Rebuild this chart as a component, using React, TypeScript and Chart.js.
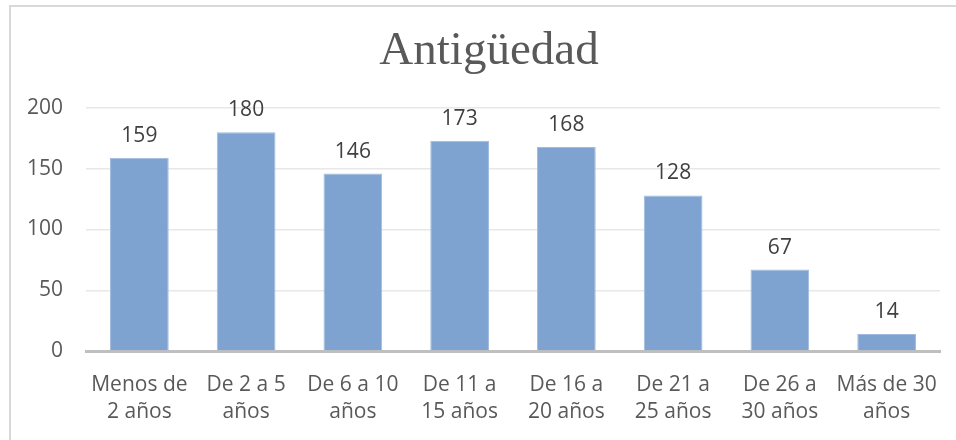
import React, { useEffect, useRef } from "react";
import { Chart, registerables } from "chart.js";

Chart.register(...registerables);

const titleText = "Antigüedad";
const categories: string[][] = [
  ["Menos de", "2 años"],
  ["De 2 a 5", "años"],
  ["De 6 a 10", "años"],
  ["De 11 a", "15 años"],
  ["De 16 a", "20 años"],
  ["De 21 a", "25 años"],
  ["De 26 a", "30 años"],
  ["Más de 30", "años"],
];
const values: number[] = [159, 180, 146, 173, 168, 128, 67, 14];
const yMin = 0;
const yMax = 200;
const yStep = 50;

const W = 960;
const H = 450;
const FONT = "'Open Sans', 'Noto Sans', sans-serif";

const framePlugin = {
  id: "frame",
  beforeDraw(chart: any) {
    const ctx = chart.ctx;
    ctx.save();
    ctx.fillStyle = "#ffffff";
    ctx.fillRect(0, 0, chart.width, chart.height);
    ctx.strokeStyle = "#d9d9d9";
    ctx.lineWidth = 2;
    ctx.strokeRect(1, 1, chart.width - 2, chart.height - 2);
    ctx.font = "47px 'Liberation Serif', serif";
    ctx.fillStyle = "#595959";
    ctx.textAlign = "center";
    ctx.textBaseline = "middle";
    ctx.fillText(titleText, chart.width / 2, 47);
    ctx.restore();
  },
};

const labelPlugin = {
  id: "barLabels",
  afterDatasetsDraw(chart: any) {
    const ctx = chart.ctx;
    const meta = chart.getDatasetMeta(0);
    ctx.save();
    ctx.font = `21px ${FONT}`;
    ctx.fillStyle = "#404040";
    ctx.textAlign = "center";
    ctx.textBaseline = "alphabetic";
    meta.data.forEach((bar: any, i: number) => {
      ctx.fillText(String(values[i]), bar.x, bar.y - 16);
    });
    ctx.restore();
  },
};

export default function App() {
  const ref = useRef<HTMLCanvasElement>(null);
  useEffect(() => {
    if (!ref.current) return;
    const chart = new Chart(ref.current, {
      type: "bar",
      data: {
        labels: categories,
        datasets: [
          {
            data: values,
            backgroundColor: "#7fa3d0",
            borderColor: "#a0bbdf",
            borderWidth: 1,
            barPercentage: 0.55,
            categoryPercentage: 1,
          },
        ],
      },
      options: {
        responsive: false,
        animation: false,
        layout: { padding: { left: 0, right: 29, top: 103, bottom: 0 } },
        plugins: {
          legend: { display: false },
          tooltip: { enabled: false },
          title: { display: false },
        },
        scales: {
          x: {
            grid: { display: false, drawTicks: false },
            border: { display: true, color: "#bfbfbf", width: 3 },
            ticks: {
              color: "#595959",
              font: { family: FONT, size: 21, lineHeight: 1.3 },
              padding: 20,
              maxRotation: 0,
              autoSkip: false,
            },
            afterFit(scale: any) {
              scale.height = 104;
            },
          },
          y: {
            min: yMin,
            max: yMax,
            grid: { color: "#e8e8e8", lineWidth: 1.5, drawTicks: false },
            border: { display: false },
            ticks: {
              stepSize: yStep,
              color: "#595959",
              font: { family: FONT, size: 21 },
              padding: 23,
            },
            afterFit(scale: any) {
              scale.width = 77;
            },
          },
        },
      },
      plugins: [framePlugin, labelPlugin],
    });
    return () => chart.destroy();
  }, []);
  return (
    <div style={{ position: "fixed", left: 0, top: 0, width: 956, height: 440, overflow: "hidden", background: "#fff" }}>
      <canvas ref={ref} width={W} height={H} style={{ position: "absolute", left: 9, top: 5, width: W, height: H }} />
    </div>
  );
}
